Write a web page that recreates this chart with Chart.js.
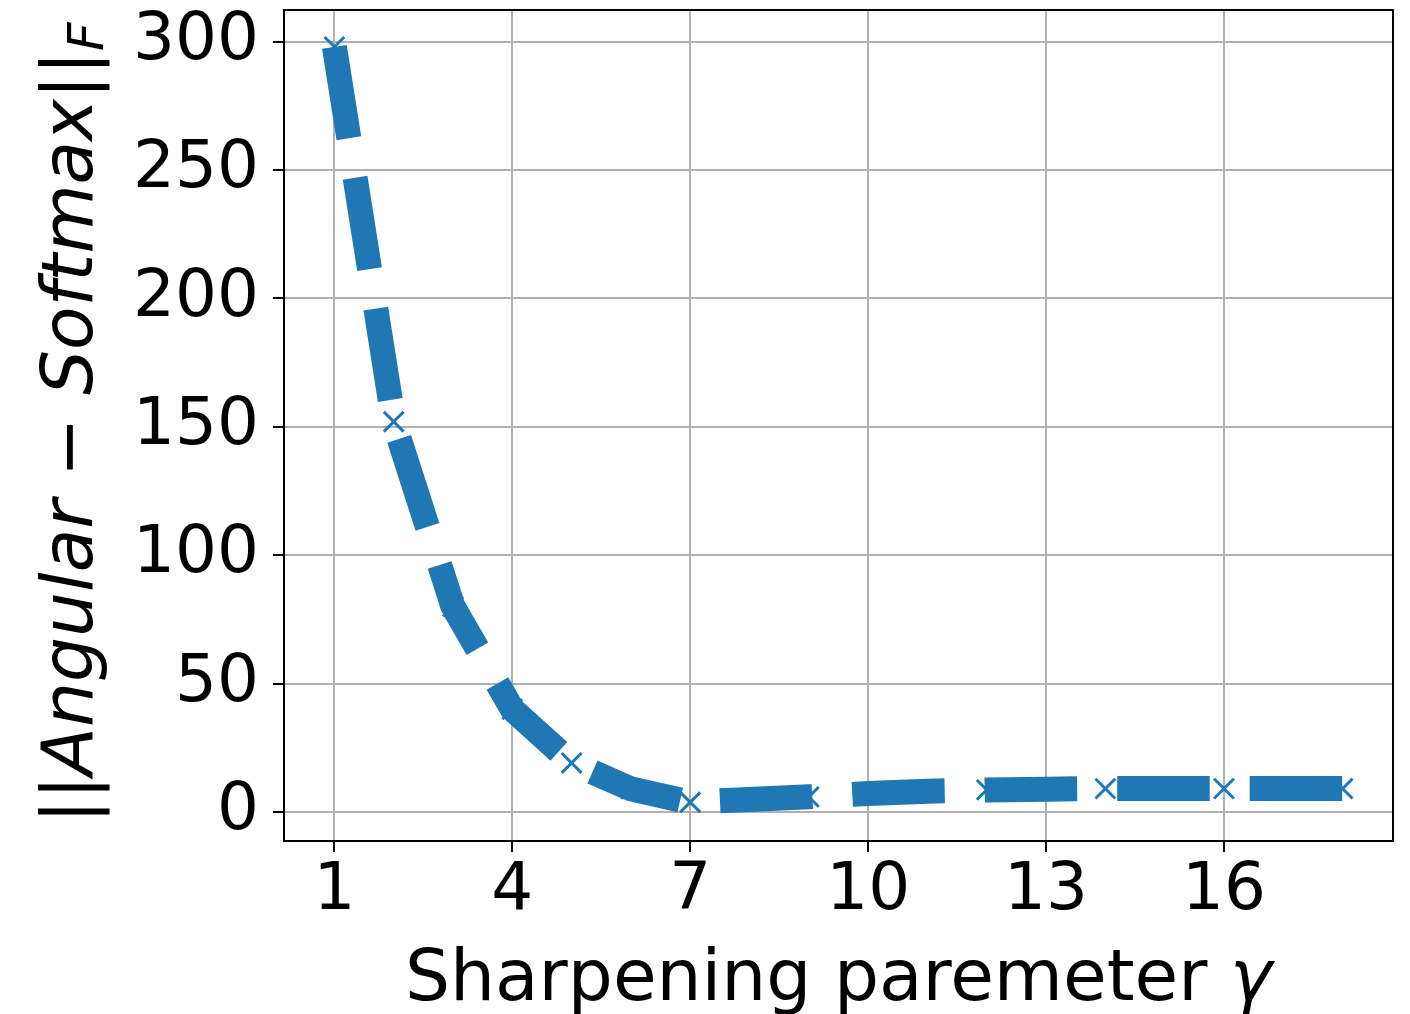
<!DOCTYPE html>
<html>
<head>
<meta charset="utf-8">
<script src="https://cdn.jsdelivr.net/npm/chart.js@4.4.1/dist/chart.umd.min.js"></script>
<style>
    html, body { margin: 0; padding: 0; background: #ffffff; }
    #wrap { width: 1410px; height: 1014px; }
</style>
</head>
<body>
<div id="wrap"><canvas id="chartSharpening" width="1410" height="1014"></canvas></div>
<script>
// values
const gammaValues = [1, 2, 3, 4, 5, 6, 7, 8, 9, 10, 11, 12, 13, 14, 15, 16, 17, 18];
const normDiff = [298, 152, 80, 40, 19.1, 9, 3.8, 4.9, 5.9, 7.2, 8.1, 8.6, 8.9, 9.1, 9.1, 9.1, 9.1, 9.1];

const xTicks = [1, 4, 7, 10, 13, 16];
const yTicks = [0, 50, 100, 150, 200, 250, 300];

// "Sharpening paremeter $\gamma$"
const xLabelParts = [
    { text: 'Sharpening paremeter ', italic: false },
    { text: 'γ', italic: true }
];
// "$||Angular - Softmax||_F$", drawn piece by piece (mathtext style)
const yLabelParts = [
    { text: '||', italic: false },
    { text: 'Angular', italic: true },
    { text: ' − ', italic: false },
    { text: 'Softmax', italic: true },
    { text: '||', italic: false },
    { text: 'F', italic: true, sub: true }
];

const COR_LINHA = '#1f77b4';
const FONTE = '"DejaVu Sans", sans-serif';
const TAM_TITULO = 71;

function fonteParte(parte, tamanho) {
    var t = parte.sub ? tamanho * 0.7 : tamanho;
    return (parte.italic ? 'italic ' : '') + t + 'px ' + FONTE;
}

// writes a list of text pieces on one line, centred on (0, 0)
function escreverPartes(ctx, partes, tamanho) {
    var total = 0;
    const larguras = partes.map(p => {
        ctx.font = fonteParte(p, tamanho);
        var w = ctx.measureText(p.text).width;
        total += w;
        return w;
    });
    ctx.fillStyle = '#000000';
    ctx.textBaseline = 'alphabetic';
    ctx.textAlign = 'left';
    var x = -total / 2;
    partes.forEach((p, i) => {
        ctx.font = fonteParte(p, tamanho);
        ctx.fillText(p.text, x, p.sub ? tamanho * 0.16 : 0);
        x += larguras[i];
    });
}

// axis titles with italics / subscript, the library title can't mix styles
const titlesPlugin = {
    id: 'axisTitles',
    afterDraw(chart) {
        const ctx = chart.ctx;
        const area = chart.chartArea;

        ctx.save();
        ctx.translate(92, (area.top + area.bottom) / 2 - 2.5);
        ctx.rotate(-Math.PI / 2);
        escreverPartes(ctx, yLabelParts, TAM_TITULO);
        ctx.restore();

        ctx.save();
        ctx.translate((area.left + area.right) / 2, 1000);
        escreverPartes(ctx, xLabelParts, TAM_TITULO);
        ctx.restore();
    }
};

// full box around the plot
const framePlugin = {
    id: 'frame',
    afterDraw(chart) {
        const ctx = chart.ctx;
        const a = chart.chartArea;
        ctx.save();
        ctx.strokeStyle = '#000000';
        ctx.lineWidth = 2;
        ctx.strokeRect(a.left, a.top, a.right - a.left, a.bottom - a.top);
        ctx.restore();
    }
};

var dados = {
    datasets: [{
        label: '',
        data: gammaValues.map((g, i) => ({ x: g, y: normDiff[i] })),
        borderColor: COR_LINHA,
        backgroundColor: COR_LINHA,
        borderWidth: 25,
        borderDash: [92.5, 40],
        borderCapStyle: 'butt',
        borderJoinStyle: 'round',
        tension: 0,
        fill: false,
        pointStyle: 'crossRot',
        pointRadius: 14,
        pointBorderWidth: 3,
        pointBorderColor: COR_LINHA,
        pointHoverRadius: 14
    }]
};

var eixoGrid = {
    color: '#b0b0b0',
    lineWidth: 2,
    tickColor: '#000000',
    tickLength: 11,
    tickWidth: 2
};

var config = {
    type: 'line',
    data: dados,
    options: {
        responsive: false,
        animation: false,
        events: [],
        layout: {
            autoPadding: false,
            padding: { top: 10, right: 17, left: 0, bottom: 0 }
        },
        scales: {
            x: {
                type: 'linear',
                min: 0.15,
                max: 18.85,
                afterBuildTicks: (scale) => { scale.ticks = xTicks.map(v => ({ value: v })); },
                afterFit: (scale) => {
                    scale.height = 173;
                    scale.paddingLeft = 0;
                    scale.paddingRight = 0;
                },
                grid: eixoGrid,
                border: { display: false },
                ticks: {
                    color: '#000000',
                    font: { family: FONTE, size: 66, lineHeight: 1.2 },
                    padding: 0,
                    maxRotation: 0,
                    autoSkip: false
                }
            },
            y: {
                min: -11.3,
                max: 312.35,
                afterBuildTicks: (scale) => { scale.ticks = yTicks.map(v => ({ value: v })); },
                afterFit: (scale) => {
                    scale.width = 284;
                    scale.paddingTop = 0;
                    scale.paddingBottom = 0;
                },
                grid: eixoGrid,
                border: { display: false },
                ticks: {
                    color: '#000000',
                    font: { family: FONTE, size: 66, lineHeight: 1.2 },
                    padding: 14
                }
            }
        },
        plugins: {
            legend: { display: false },
            tooltip: { enabled: false },
            title: { display: false }
        }
    },
    plugins: [titlesPlugin, framePlugin]
};

var chartSharpening = new Chart(
    document.getElementById('chartSharpening'),
    config
);
</script>
</body>
</html>
